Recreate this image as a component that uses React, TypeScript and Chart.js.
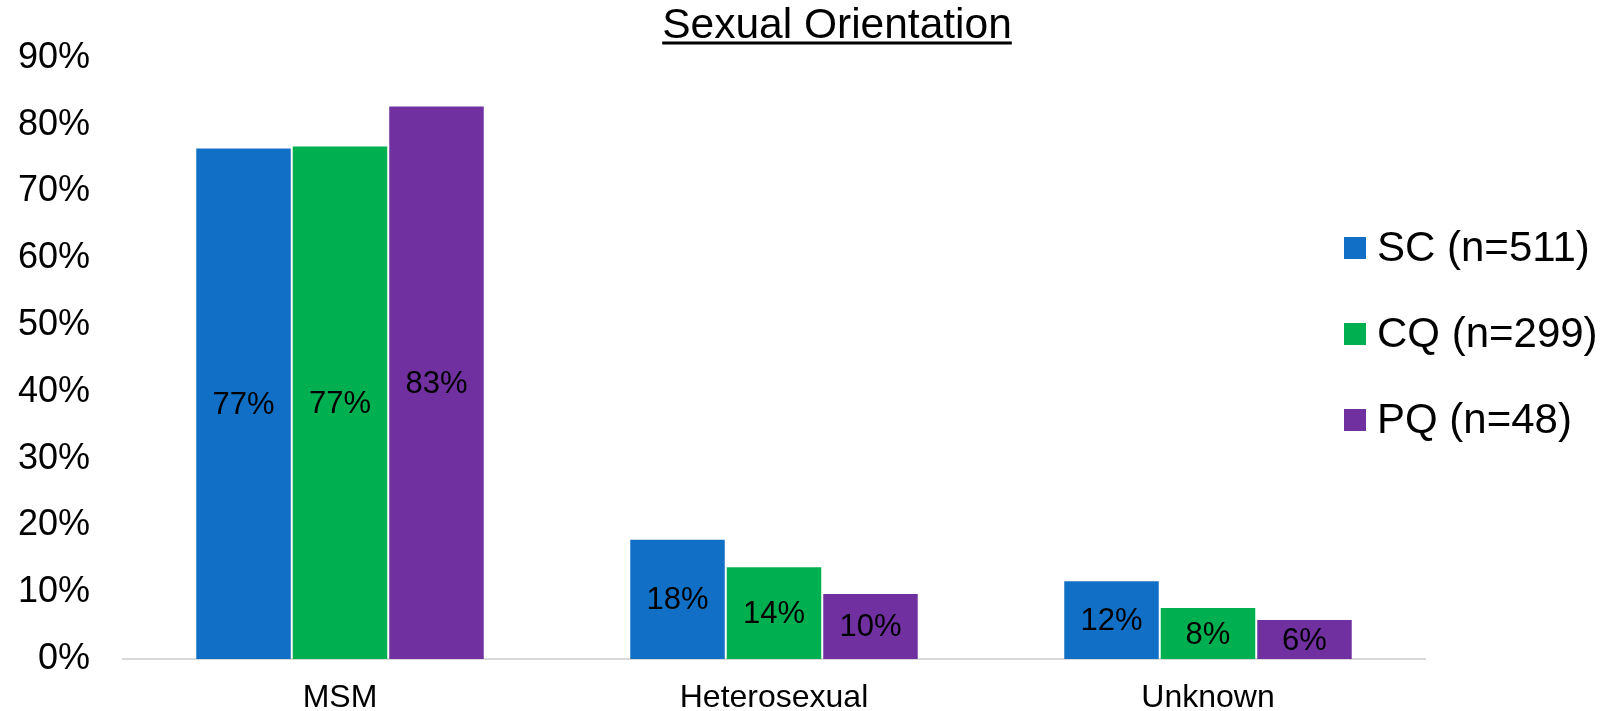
import React, { useEffect, useRef } from 'react';
import { Chart, registerables } from 'chart.js';

Chart.register(...registerables);

const TITLE = 'Sexual Orientation';
const categories = ['MSM', 'Heterosexual', 'Unknown'];
const seriesNames = ['SC (n=511)', 'CQ (n=299)', 'PQ (n=48)'];
const scValues = [76.6, 18.0, 11.8];
const cqValues = [76.9, 13.9, 7.8];
const pqValues = [82.9, 9.9, 6.0];
const seriesColors = ['#1170C6', '#00B050', '#7030A0'];
const yMin = 0;
const yMax = 90;
const yStep = 10;

const FONT = 'Arial, "Liberation Sans", sans-serif';
const W = 1607;
const H = 711;

const titlePlugin = {
  id: 'underlinedTitle',
  afterDraw(chart: any) {
    const ctx = chart.ctx;
    ctx.save();
    ctx.font = `42.5px ${FONT}`;
    ctx.fillStyle = '#000';
    ctx.textAlign = 'center';
    ctx.textBaseline = 'alphabetic';
    const cx = 837;
    const by = 38;
    ctx.fillText(TITLE, cx, by);
    const w = ctx.measureText(TITLE).width;
    ctx.fillRect(cx - w / 2, by + 3.5, w, 3);
    ctx.restore();
  },
};

const dataLabelPlugin = {
  id: 'barValueLabels',
  afterDatasetsDraw(chart: any) {
    const ctx = chart.ctx;
    ctx.save();
    ctx.font = `31px ${FONT}`;
    ctx.fillStyle = '#000';
    ctx.textAlign = 'center';
    ctx.textBaseline = 'middle';
    chart.data.datasets.forEach((ds: any, di: number) => {
      const meta = chart.getDatasetMeta(di);
      meta.data.forEach((el: any, i: number) => {
        const v = ds.data[i];
        const y = (el.y + el.base) / 2 + 2;
        ctx.fillText(`${Math.round(v)}%`, el.x, y);
      });
    });
    ctx.restore();
  },
};

const legendPlugin = {
  id: 'sideLegend',
  afterDraw(chart: any) {
    const ctx = chart.ctx;
    ctx.save();
    ctx.font = `42px ${FONT}`;
    ctx.textAlign = 'left';
    ctx.textBaseline = 'middle';
    const rowY = [248, 334, 420];
    chart.data.datasets.forEach((ds: any, i: number) => {
      const y = rowY[i];
      ctx.fillStyle = ds.backgroundColor;
      ctx.fillRect(1344, y - 11, 22, 22);
      ctx.fillStyle = '#000';
      ctx.fillText(ds.label, 1377, y + 1);
    });
    ctx.restore();
  },
};

export default function App() {
  const ref = useRef<HTMLCanvasElement | null>(null);

  useEffect(() => {
    if (!ref.current) return;
    const values = [scValues, cqValues, pqValues];
    const chart = new Chart(ref.current, {
      type: 'bar',
      data: {
        labels: categories,
        datasets: seriesNames.map((name, i) => ({
          label: name,
          data: values[i],
          backgroundColor: seriesColors[i],
          borderColor: 'rgba(255,255,255,0.25)',
          borderWidth: 1,
          barPercentage: 1,
          categoryPercentage: 0.667,
        })),
      },
      options: {
        responsive: false,
        animation: false,
        devicePixelRatio: 1,
        layout: { padding: { top: 58, right: 182, left: 0, bottom: 0 } },
        plugins: {
          legend: { display: false },
          title: { display: false },
          tooltip: { enabled: false },
        },
        scales: {
          x: {
            grid: { display: false, drawTicks: false },
            border: { display: true, color: '#D9D9D9', width: 2 },
            ticks: {
              color: '#000',
              font: { size: 32, family: FONT },
              padding: 19.5,
              maxRotation: 0,
            },
            afterFit(scale: any) {
              scale.height = 52;
            },
          },
          y: {
            min: yMin,
            max: yMax,
            grid: { display: false, drawTicks: false },
            border: { display: false },
            ticks: {
              stepSize: yStep,
              color: '#000',
              font: { size: 36, family: FONT },
              padding: 33,
              callback: (v: any) => `${v}%`,
            },
            afterFit(scale: any) {
              scale.width = 123;
              scale.paddingTop = 20;
              scale.paddingBottom = 20;
            },
          },
        },
      },
      plugins: [titlePlugin, dataLabelPlugin, legendPlugin],
    });
    return () => chart.destroy();
  }, []);

  return (
    <div style={{ position: 'fixed', left: 0, top: 0, width: W, height: H, background: '#fff' }}>
      <canvas ref={ref} width={W} height={H} style={{ width: W, height: H, display: 'block' }} />
    </div>
  );
}
